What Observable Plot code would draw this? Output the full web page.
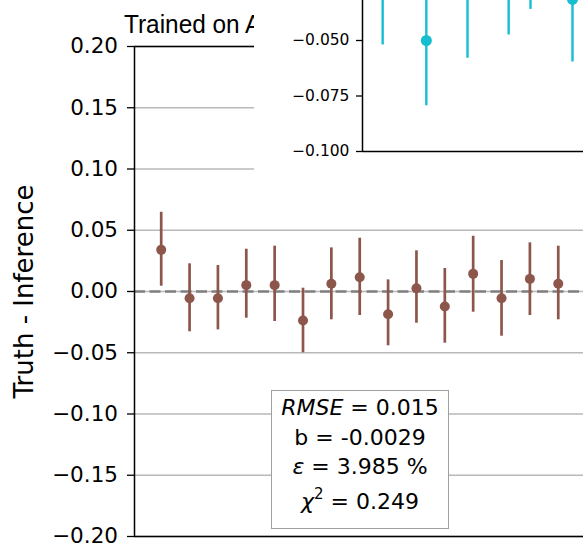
<!DOCTYPE html>
<html><head><meta charset="utf-8">
<script src="https://cdn.jsdelivr.net/npm/d3@7"></script>
<script src="https://cdn.jsdelivr.net/npm/@observablehq/plot@0.6"></script>
<style>
html,body{margin:0;padding:0;background:#fff;}
#wrap{position:relative;width:583px;height:546px;overflow:hidden;font-family:"DejaVu Sans",sans-serif;color:#000;}
#wrap svg{position:absolute;max-width:none;}
#title{position:absolute;left:124px;top:10.6px;font-family:"Liberation Sans",sans-serif;font-size:26.5px;line-height:26.5px;white-space:nowrap;transform:scaleX(0.92);transform-origin:0 0;color:#000;}
#stats{position:absolute;left:271px;top:390px;width:178px;height:139px;box-sizing:border-box;border:1.8px solid #a0a0a0;background:#fff;font-size:22px;}
#stats div{position:absolute;left:0;right:0;text-align:center;line-height:30px;height:30px;white-space:nowrap;}
#stats sup{font-size:15px;vertical-align:0;position:relative;top:-10px;}
</style></head><body><div id="wrap"></div>
<script>
// ---- data ----
const runIndex = [1, 2, 3, 4, 5, 6, 7, 8, 9, 10, 11, 12, 13, 14, 15];
const mainValues = [0.034, -0.0055, -0.0055, 0.0052, 0.0052, -0.0237, 0.0063, 0.0117, -0.0185, 0.0027, -0.0122, 0.0144, -0.0055, 0.0103, 0.0063];
const mainLower  = [0.0043, -0.0329, -0.0313, -0.0218, -0.0245, -0.050, -0.0231, -0.0196, -0.0443, -0.0259, -0.0422, -0.0169, -0.0365, -0.0196, -0.0231];
const mainUpper  = [0.0647, 0.0226, 0.0212, 0.0345, 0.037, 0.0027, 0.0356, 0.0435, 0.0095, 0.0332, 0.0188, 0.0451, 0.0253, 0.0397, 0.037];
const yTicks = [-0.2, -0.15, -0.1, -0.05, 0, 0.05, 0.1, 0.15, 0.2];
const xDomain = [0.0585, 15.89];

const insetIndex  = [0.48, 1.52, 2.5, 3.48, 4.0, 5.0];
const insetValues = [-0.024, -0.050, -0.029, -0.019, -0.008, -0.0315];
const insetLower  = [-0.052, -0.0794, -0.058, -0.0475, -0.036, -0.0597];
const insetUpper  = [0.004, -0.0206, 0.0, 0.009, 0.02, -0.002];
const insetTicks = [-0.1, -0.075, -0.05];
const insetXDomain = [0, 5.262];
const insetYDomain = [-0.1, -0.025];

const titleText = "Trained on A";
const yLabel = "Truth - Inference";
const statRMSE = "0.015", statB = "-0.0029", statEps = "3.985", statChi = "0.249";

const brown = "#8c564b", cyan = "#17becf";
const wrap = document.getElementById("wrap");

const mainData = runIndex.map((x, i) => ({x, v: mainValues[i], lo: mainLower[i], hi: mainUpper[i]}));
const main = Plot.plot({
  width: 583, height: 546, marginLeft: 134, marginTop: 46, marginBottom: 10, marginRight: 0,
  style: {fontFamily: "DejaVu Sans", background: "transparent", color: "#000"},
  x: {domain: xDomain, axis: null},
  y: {domain: [-0.2, 0.2], axis: null},
  marks: [
    Plot.gridY(yTicks, {stroke: "#b8b8b8", strokeOpacity: 1, strokeWidth: 1.3}),
    Plot.ruleY([0], {stroke: "#808080", strokeWidth: 2.5, strokeDasharray: "11,4.5"}),
    Plot.ruleX(mainData, {x: "x", y1: "lo", y2: "hi", stroke: brown, strokeWidth: 2.7}),
    Plot.dot(mainData, {x: "x", y: "v", r: 5, fill: brown}),
    Plot.ruleY([-0.2, 0.2], {stroke: "#000", strokeWidth: 1.5}),
    Plot.ruleX([xDomain[0]], {stroke: "#000", strokeWidth: 1.5}),
    Plot.axisY(yTicks, {tickSize: 7, tickPadding: 9.5, fontSize: 21.5, tickFormat: ".2f", stroke: "#000", strokeWidth: 1.3, fill: "#000", label: null}),
    Plot.text([yLabel], {frameAnchor: "left", textAnchor: "middle", rotate: -90, dx: -110, fontSize: 26, fill: "#000"})
  ]
});
main.style.left = "0px"; main.style.top = "0px";
wrap.appendChild(main);

const title = document.createElement("div");
title.id = "title";
title.textContent = titleText;
wrap.appendChild(title);

const insetData = insetIndex.map((x, i) => ({x, v: insetValues[i], lo: insetLower[i], hi: insetUpper[i]}));
const inset = Plot.plot({
  width: 329, height: 240, marginLeft: 108, marginTop: 4.5, marginBottom: 69, marginRight: 0,
  style: {fontFamily: "DejaVu Sans", background: "#fff", color: "#000"},
  x: {domain: insetXDomain, axis: null},
  y: {domain: insetYDomain, axis: null},
  marks: [
    Plot.ruleX(insetData, {x: "x", y1: "lo", y2: "hi", stroke: cyan, strokeWidth: 2.4}),
    Plot.dot(insetData, {x: "x", y: "v", r: 5.5, fill: cyan}),
    Plot.ruleY([insetYDomain[0]], {stroke: "#000", strokeWidth: 1.5}),
    Plot.ruleX([insetXDomain[0]], {y1: insetYDomain[0], y2: 0.02, stroke: "#000", strokeWidth: 1.5}),
    Plot.axisY(insetTicks, {tickSize: 6, tickPadding: 7, fontSize: 15.5, tickFormat: ".3f", stroke: "#000", strokeWidth: 1.3, fill: "#000", label: null})
  ]
});
inset.style.left = "254px"; inset.style.top = "-20px"; inset.style.overflow = "hidden";
wrap.appendChild(inset);

const stats = document.createElement("div");
stats.id = "stats";
stats.innerHTML =
  `<div style="top:2px"><i>RMSE</i> = ${statRMSE}</div>` +
  `<div style="top:32px">b = ${statB}</div>` +
  `<div style="top:61px"><i>ε</i> = ${statEps} %</div>` +
  `<div style="top:96px"><i>χ</i><sup>2</sup> = ${statChi}</div>`;
wrap.appendChild(stats);
</script>
</body></html>
